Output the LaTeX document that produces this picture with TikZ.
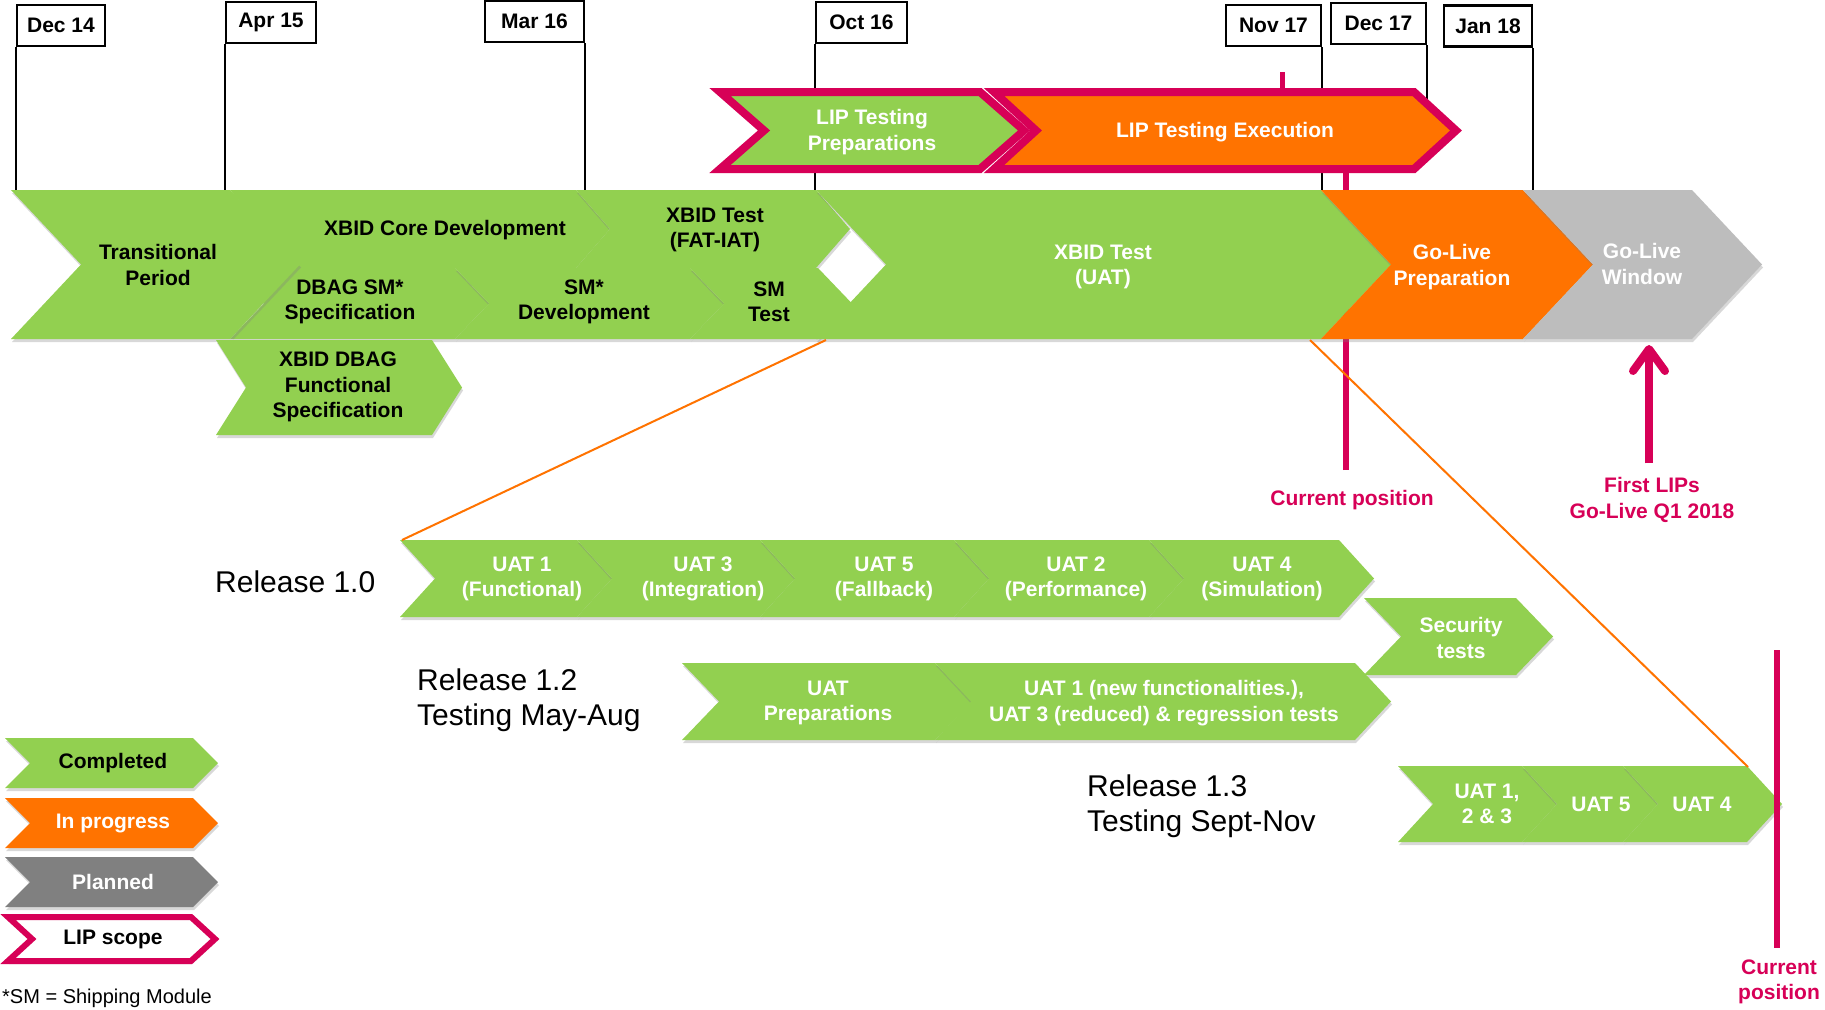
\documentclass[tikz,border=0pt]{standalone}
\usepackage{fontspec}
\setmainfont{Liberation Sans}
\usepackage{tikz}
\usetikzlibrary{positioning,calc,arrows.meta,shadows}

\definecolor{lipgreen}{HTML}{92D050}
\definecolor{liporange}{HTML}{FF7300}
\definecolor{lipmagenta}{HTML}{D70057}
\definecolor{lipgrey}{HTML}{BDBDBD}
\definecolor{lipdark}{HTML}{808080}

% chevron: style, left x, right x, top y, bottom y, tip depth
\newcommand{\chevshape}[6]{%
    \pgfmathsetmacro{\cmid}{(#4+#5)/2}%
    \path[#1] (#2,#4) -- (#3,#4) -- (#3+#6,\cmid) -- (#3,#5) -- (#2,#5) -- (#2+#6,\cmid) -- cycle;
}

\tikzset{
    sh/.style={drop shadow={shadow xshift=1pt,shadow yshift=-3pt,opacity=.3}},
    done/.style={fill=lipgreen,sh},
    busy/.style={fill=liporange,sh},
    plan/.style={fill=lipgrey,sh},
    lipframe/.style={draw=lipmagenta,line width=8pt,miter limit=10},
    txt/.style={font=\bfseries\fontsize{21}{25.5}\selectfont,align=center,inner sep=0pt},
    wtxt/.style={txt,text=white},
    datebox/.style={draw,line width=2.5pt,fill=white,minimum height=41pt,inner sep=0pt,font=\bfseries\fontsize{21}{25}\selectfont},
    dateline/.style={line width=2pt},
    rel/.style={font=\fontsize{30}{35}\selectfont,align=left,anchor=west,inner sep=0pt},
    zoomline/.style={liporange,line width=2pt},
    curline/.style={lipmagenta,line width=5.5pt},
    ptr/.style={lipmagenta,font=\bfseries\fontsize{21}{25.5}\selectfont,align=center,inner sep=0pt}
}

\begin{document}
\begin{tikzpicture}[x=1pt,y=-1pt]
    \useasboundingbox (0,0) rectangle (1825,1009);
    \fill [white] (0,0) rectangle (1825,1009);

    % Dates
    \foreach \nm/\x/\y/\w/\lbl in {dec14/61/25.5/88/Dec 14, apr15/271/22.5/90/Apr 15, mar16/534.5/21.5/99/Mar 16, oct16/861.5/22.5/91/Oct 16, nov17/1273.5/25.5/95/Nov 17, dec17/1378.5/23.5/95/Dec 17, jan18/1488/26/88/Jan 18} {
        \node [datebox, minimum width=\w pt] (\nm) at (\x,\y) {\lbl};
    }
    \coordinate (bartop) at (0,190);
    \coordinate (lipmid) at (0,130);
    \foreach \nm/\s in {dec14/west, apr15/west, mar16/east, oct16/west, nov17/east, jan18/east} {
        \draw [dateline] (\nm.south \s) -- (\nm.south \s |- bartop);
    }
    \draw [dateline] (dec17.south east) -- (dec17.south east |- lipmid);

    % Current position (behind the bar)
    \node [ptr] (curpos) at (1352,500) {Current position};
    \coordinate (cur-top) at (1346,173);
    \draw [curline, shorten <=20pt] (curpos.north -| cur-top) -- (cur-top);
    \coordinate (tick-top) at (1282,72);
    \draw [lipmagenta, line width=5pt] (tick-top) -- (tick-top |- lipmid);

    % Main bar
    \chevshape{done}{230}{576}{190}{268}{34}
    \chevshape{done}{576}{816}{190}{268}{34}
    \chevshape{done}{230}{455}{268}{339}{34}
    \chevshape{done}{455}{690}{268}{339}{34}
    \chevshape{done}{690}{818}{268}{339}{34}
    \chevshape{done}{816}{1321}{190}{339}{70}
    \chevshape{busy}{1321}{1523}{190}{339}{70}
    \chevshape{plan}{1523}{1692}{190}{339}{70}
    \chevshape{done}{11}{230}{190}{339}{70}
    \chevshape{done}{216}{432}{340}{435}{30}

    \node [txt] (transit) at (158,265) {Transitional\\Period};
    \node [txt] (coredev) at (445,230) {XBID Core Development};
    \node [txt] (fatiat) at (715,230) {XBID Test\\(FAT-IAT)};
    \node [txt] (smspec) at (350,302) {DBAG SM*\\Specification};
    \node [txt] (smdev) at (584,302) {SM*\\Development};
    \node [txt] (smtest) at (769,302) {SM\\Test};
    \node [wtxt] (uat) at (1103,267) {XBID Test\\(UAT)};
    \node [wtxt] (golive) at (1452,267) {Go-Live\\Preparation};
    \node [wtxt] (window) at (1642,264) {Go-Live\\Window};
    \node [txt] (funcspec) at (338,387) {XBID DBAG\\Functional\\Specification};

    % LIP testing
    \chevshape{done,lipframe}{720}{980}{92}{169}{44}
    \chevshape{busy,lipframe}{994}{1414}{92}{169}{42}
    \node [wtxt] (lipprep) at (872,132) {LIP Testing\\Preparations};
    \node [wtxt] (lipexec) at (1225,132) {LIP Testing Execution};

    % Releases
    \node [rel] (rel10) at (215,582) {Release 1.0};
    \node [rel] (rel12) at (417,700) {Release 1.2\\Testing May-Aug};
    \node [rel] (rel13) at (1087,806) {Release 1.3\\Testing Sept-Nov};

    \foreach \l/\r in {400/577, 577/760, 760/954, 954/1149, 1149/1339} {
        \chevshape{done}{\l}{\r}{540}{617}{35}
    }
    \foreach \x/\t [count=\i] in {522/{UAT 1\\(Functional)}, 703/{UAT 3\\(Integration)}, 884/{UAT 5\\(Fallback)}, 1076/{UAT 2\\(Performance)}, 1262/{UAT 4\\(Simulation)}} {
        \node [wtxt] (uat10-\i) at (\x,579) {\t};
    }
    \chevshape{done}{1364}{1516}{598}{675}{37}
    \node [wtxt] (sectest) at (1461,638) {Security\\tests};

    \chevshape{done}{682}{935}{663}{740}{37}
    \chevshape{done}{935}{1355}{663}{740}{36}
    \node [wtxt] (uatprep) at (828,703) {UAT\\Preparations};
    \node [wtxt] (uatnew) at (1164,703) {UAT 1 (new functionalities.),\\UAT 3 (reduced) \& regression tests};

    \foreach \l/\r in {1398/1522, 1522/1623, 1623/1747} {
        \chevshape{done}{\l}{\r}{766}{842}{35}
    }
    \node [wtxt] (uat13-1) at (1487,804) {UAT 1,\\2 \& 3};
    \node [wtxt] (uat13-2) at (1601,804) {UAT 5};
    \node [wtxt] (uat13-3) at (1702,804) {UAT 4};

    % Zoom lines
    \coordinate (uat-bl) at (826,340);
    \coordinate (r10-tl) at (402,540);
    \coordinate (uat-br) at (1310,340);
    \coordinate (r13-tr) at (1748,767);
    \draw [zoomline] (uat-bl) -- (r10-tl);
    \draw [zoomline] (uat-br) -- (r13-tr);

    % Go-live arrow and second position
    \node [ptr] (firstlips) at (1652,500) {First LIPs\\Go-Live Q1 2018};
    \coordinate (win-bottom) at (1649,345);
    \draw [lipmagenta, line width=8pt, shorten <=14pt, -{Straight Barb[round,length=22pt,width=32pt]}] (firstlips.north -| win-bottom) -- (win-bottom);

    \node [ptr] (curpos2) at (1779,982) {Current\\position};
    \coordinate (cur2-top) at (1777,650);
    \draw [curline, shorten <=12pt] (curpos2.north -| cur2-top) -- (cur2-top);

    % Legend
    \chevshape{done}{5}{193}{738}{788}{25}
    \chevshape{busy}{5}{193}{798}{848}{25}
    \chevshape{fill=lipdark,sh}{5}{193}{857}{907}{25}
    \chevshape{fill=white,sh,lipframe,line width=6pt}{8}{191}{917}{961}{24}
    \node [txt] (lg-done) at (113,763) {Completed};
    \node [wtxt] (lg-busy) at (113,823) {In progress};
    \node [wtxt] (lg-plan) at (113,882) {Planned};
    \node [txt] (lg-lip) at (113,939) {LIP scope};

    \node [anchor=base west, inner sep=0pt, font=\fontsize{20}{24}\selectfont] (smnote) at (2,1003) {*SM = Shipping Module};
\end{tikzpicture}
\end{document}
